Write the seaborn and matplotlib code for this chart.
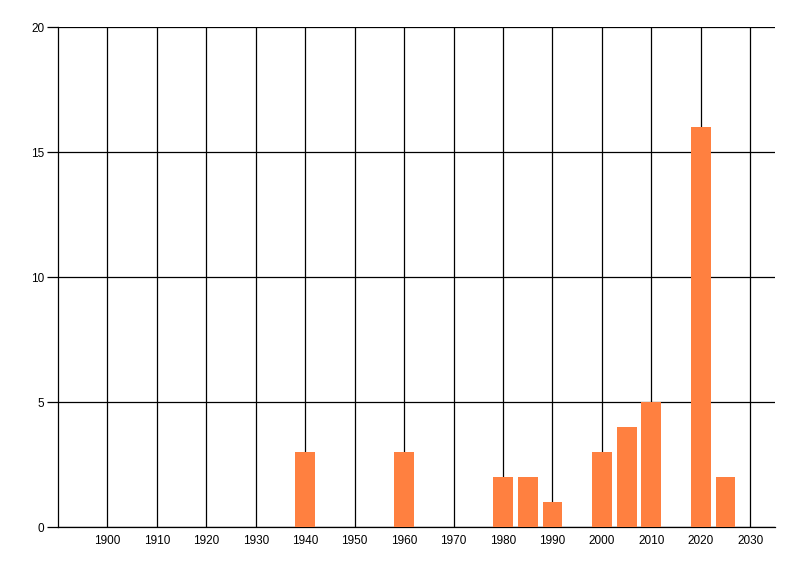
import pandas as pd
import matplotlib
matplotlib.use("Agg")
import matplotlib.pyplot as plt
import seaborn as sns

# data
years = [1940, 1960, 1980, 1985, 1990, 2000, 2005, 2010, 2020, 2025]
counts = [3, 3, 2, 2, 1, 3, 4, 5, 16, 2]
x_ticks = list(range(1900, 2031, 10))
y_ticks = [0, 5, 10, 15, 20]

df = pd.DataFrame({"year": years, "count": counts})

sns.set_theme(style="white")
plt.rcParams["font.family"] = ["Liberation Sans", "DejaVu Sans"]

fig = plt.figure(figsize=(8, 5.76), dpi=100)
ax = fig.add_axes([0.0725, 0.085, 0.96875 - 0.0725, 0.953 - 0.085])

sns.barplot(data=df, x="year", y="count", native_scale=True, color="#FF8040",
            saturation=1, width=0.8, linewidth=0, ax=ax, zorder=3)

ax.set_xlim(1890, 2035)
ax.set_ylim(0, 20)
ax.set_xticks(x_ticks)
ax.set_yticks(y_ticks)
ax.set_xlabel("")
ax.set_ylabel("")

ax.grid(True, color="black", linewidth=0.9)
ax.set_axisbelow(True)
for s in ["top", "right"]:
    ax.spines[s].set_visible(False)
for s in ["left", "bottom"]:
    ax.spines[s].set_color("black")
    ax.spines[s].set_linewidth(0.9)

ax.tick_params(axis="x", length=0, pad=6, labelsize=8.5, colors="black")
ax.tick_params(axis="y", length=8, width=0.9, direction="out", pad=2,
               labelsize=8.5, colors="black", left=True)

fig.savefig("out.png", dpi=100)
